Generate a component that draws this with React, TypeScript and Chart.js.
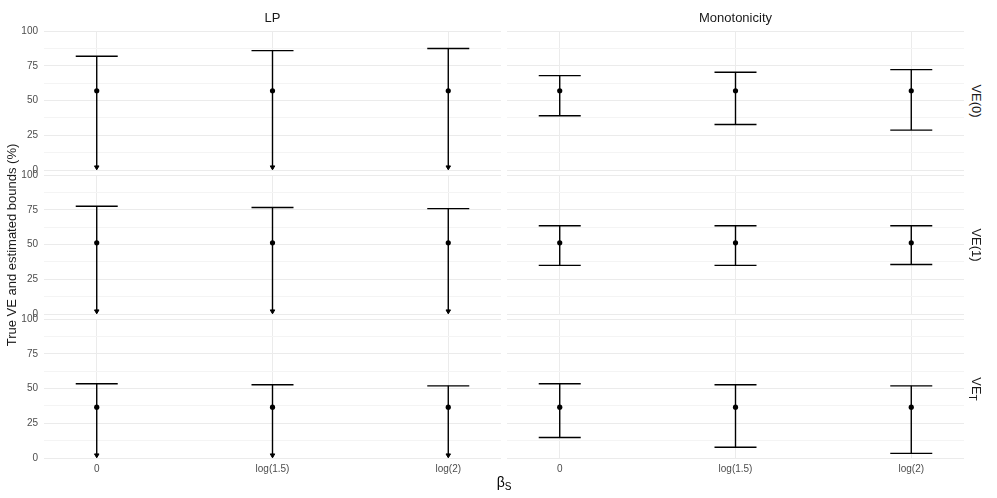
import React, { useEffect, useRef } from 'react';
import { Chart, registerables } from 'chart.js';

Chart.register(...registerables);
Chart.defaults.font.family = '"Liberation Sans", Arial, Helvetica, sans-serif';

// ---------- data ----------
const categories = ['0', 'log(1.5)', 'log(2)'];
const methods = ['LP', 'Monotonicity'];
const estimands = ['VE(0)', 'VE(1)', 'VE_T'];
const yTickValues = [0, 12.5, 25, 37.5, 50, 62.5, 75, 87.5, 100];

// true VE (point) per estimand, per category
const trueVE0 = [57, 57, 57];
const trueVE1 = [51.2, 51.2, 51.2];
const trueVET = [36.6, 36.6, 36.6];

// LP bounds
const lpUpperVE0 = [81.8, 85.9, 87.4];
const lpLowerVE0 = [2, 2, 2];
const lpUpperVE1 = [77.5, 76.6, 75.8];
const lpLowerVE1 = [2, 2, 2];
const lpUpperVET = [53.4, 52.7, 51.9];
const lpLowerVET = [2, 2, 2];

// Monotonicity bounds
const monoUpperVE0 = [67.9, 70.3, 72.2];
const monoLowerVE0 = [39, 32.7, 28.7];
const monoUpperVE1 = [63.5, 63.5, 63.5];
const monoLowerVE1 = [35, 35, 35.6];
const monoUpperVET = [53.4, 52.7, 51.9];
const monoLowerVET = [14.8, 7.7, 3.3];

const truth = [trueVE0, trueVE1, trueVET];
const uppers = [
  [lpUpperVE0, monoUpperVE0],
  [lpUpperVE1, monoUpperVE1],
  [lpUpperVET, monoUpperVET],
];
const lowers = [
  [lpLowerVE0, monoLowerVE0],
  [lpLowerVE1, monoLowerVE1],
  [lpLowerVET, monoLowerVET],
];

// ---------- layout ----------
const PANEL_LEFT = [44, 507];
const PANEL_W = 457;
const PANEL_TOP = [31, 175, 319];
const PANEL_H = 139;
const Y_AXIS_W = 44;
const X_AXIS_H = 22;
const PAD = 8;
const FONT = '"Liberation Sans", Arial, Helvetica, sans-serif';

function Panel({ row, col }: { row: number; col: number }) {
  const ref = useRef<HTMLCanvasElement | null>(null);
  const left = col === 0 ? 0 : PANEL_LEFT[1];
  const width = col === 0 ? PANEL_LEFT[0] + PANEL_W : PANEL_W;
  const top = PANEL_TOP[row] - PAD;
  const isBottom = row === 2;
  const height = PAD + PANEL_H + (isBottom ? X_AXIS_H : PAD);

  useEffect(() => {
    if (!ref.current) return;
    const pts = truth[row];
    const hi = uppers[row][col];
    const lo = lowers[row][col];
    const isLP = col === 0;
    const datasets: any[] = [];
    categories.forEach((_, i) => {
      datasets.push({
        data: [
          { x: i + 1, y: lo[i] },
          { x: i + 1, y: hi[i] },
        ],
        showLine: true,
        borderColor: '#000',
        borderWidth: 1.4,
        pointRadius: 0,
      });
    });
    datasets.push({
      data: categories.map((_, i) => ({ x: i + 1, y: hi[i] })),
      pointStyle: 'line',
      pointRadius: 21,
      pointBorderWidth: 1.4,
      pointBorderColor: '#000',
      pointBackgroundColor: '#000',
    });
    if (isLP) {
      datasets.push({
        data: categories.map((_, i) => ({ x: i + 1, y: lo[i] })),
        pointStyle: 'triangle',
        rotation: 180,
        pointRadius: 2.6,
        pointBorderWidth: 1,
        pointBorderColor: '#000',
        pointBackgroundColor: '#000',
        clip: false,
      });
    } else {
      datasets.push({
        data: categories.map((_, i) => ({ x: i + 1, y: lo[i] })),
        pointStyle: 'line',
        pointRadius: 21,
        pointBorderWidth: 1.4,
        pointBorderColor: '#000',
        pointBackgroundColor: '#000',
      });
    }
    datasets.push({
      data: categories.map((_, i) => ({ x: i + 1, y: pts[i] })),
      pointStyle: 'circle',
      pointRadius: 2.6,
      pointBorderWidth: 0,
      pointBackgroundColor: '#000',
      pointBorderColor: '#000',
    });

    const chart = new Chart(ref.current, {
      type: 'scatter',
      data: { datasets },
      options: {
        animation: false,
        responsive: false,
        events: [],
        layout: {
          autoPadding: false,
          padding: { top: PAD, bottom: isBottom ? 0 : PAD, left: 0, right: 0 },
        },
        plugins: { legend: { display: false }, tooltip: { enabled: false } },
        scales: {
          x: {
            type: 'linear',
            min: 0.7,
            max: 3.3,
            afterBuildTicks: (s: any) => {
              s.ticks = categories.map((_, i) => ({ value: i + 1 }));
            },
            afterFit: (s: any) => {
              s.height = isBottom ? X_AXIS_H : 0;
              s.paddingLeft = 0;
              s.paddingRight = 0;
            },
            border: { display: false },
            grid: { color: '#ebebeb', lineWidth: 1, drawTicks: false },
            ticks: {
              display: isBottom,
              autoSkip: false,
              maxRotation: 0,
              padding: 5,
              color: '#4d4d4d',
              font: { size: 10 },
              callback: (v: any) => categories[Math.round(Number(v)) - 1] ?? '',
            },
          },
          y: {
            type: 'linear',
            min: 0,
            max: 100,
            afterBuildTicks: (s: any) => {
              s.ticks = yTickValues.map((v) => ({ value: v }));
            },
            afterFit: (s: any) => {
              s.width = col === 0 ? Y_AXIS_W : 0;
              s.paddingTop = 0;
              s.paddingBottom = 0;
            },
            border: { display: false },
            grid: {
              drawTicks: false,
              color: (c: any) => (c.tick && c.tick.value % 25 === 0 ? '#ebebeb' : '#f4f4f4'),
              lineWidth: 1,
            },
            ticks: {
              display: col === 0,
              autoSkip: false,
              padding: 6,
              color: '#4d4d4d',
              font: { size: 10 },
              callback: (v: any) => (Number(v) % 25 === 0 ? String(v) : ''),
            },
          },
        },
      } as any,
    });
    return () => chart.destroy();
  }, [row, col]);

  return (
    <canvas
      ref={ref}
      width={width}
      height={height}
      style={{ position: 'absolute', left, top, width, height }}
    />
  );
}

const stripTop: React.CSSProperties = {
  position: 'absolute',
  top: 17,
  transform: 'translate(-50%, -50%)',
  fontSize: 13,
  color: '#1a1a1a',
  whiteSpace: 'nowrap',
  fontFamily: FONT,
};

export default function App() {
  const rowCenters = PANEL_TOP.map((t) => t + PANEL_H / 2);
  const titleCenterY = Math.round((PANEL_TOP[0] + PANEL_TOP[2] + PANEL_H) / 2);
  return (
    <div
      style={{
        position: 'fixed',
        left: 0,
        top: 0,
        width: 997,
        height: 498,
        background: '#fff',
        overflow: 'hidden',
        fontFamily: FONT,
      }}
    >
      {estimands.map((_, r) =>
        methods.map((__, c) => <Panel key={`${r}-${c}`} row={r} col={c} />)
      )}
      {methods.map((m, c) => (
        <div key={m} style={{ ...stripTop, left: PANEL_LEFT[c] + PANEL_W / 2 }}>
          {m}
        </div>
      ))}
      {estimands.map((e, r) => (
        <div
          key={e}
          style={{
            position: 'absolute',
            left: 976,
            top: rowCenters[r],
            transform: 'translate(-50%, -50%) rotate(90deg)',
            fontSize: 13,
            color: '#1a1a1a',
            whiteSpace: 'nowrap',
            lineHeight: 1,
          }}
        >
          {e === 'VE_T' ? (
            <span>
              VE<sub style={{ fontSize: 10, verticalAlign: -3, lineHeight: 0 }}>T</sub>
            </span>
          ) : (
            e
          )}
        </div>
      ))}
      <div
        style={{
          position: 'absolute',
          left: 12 - 150,
          top: titleCenterY - 8,
          width: 300,
          height: 16,
          lineHeight: '16px',
          textAlign: 'center',
          transform: 'rotate(-90deg)',
          transformOrigin: '150px 8px',
          fontSize: 13,
          color: '#1a1a1a',
          whiteSpace: 'nowrap',
        }}
      >
        True VE and estimated bounds (%)
      </div>
      <div
        style={{
          position: 'absolute',
          left: (PANEL_LEFT[0] + PANEL_LEFT[1] + PANEL_W) / 2,
          top: 482,
          transform: 'translate(-50%, -50%)',
          fontSize: 14,
          color: '#000',
          whiteSpace: 'nowrap',
          lineHeight: 1,
        }}
      >
        β<sub style={{ fontSize: 10, verticalAlign: -3, lineHeight: 0 }}>S</sub>
      </div>
    </div>
  );
}
